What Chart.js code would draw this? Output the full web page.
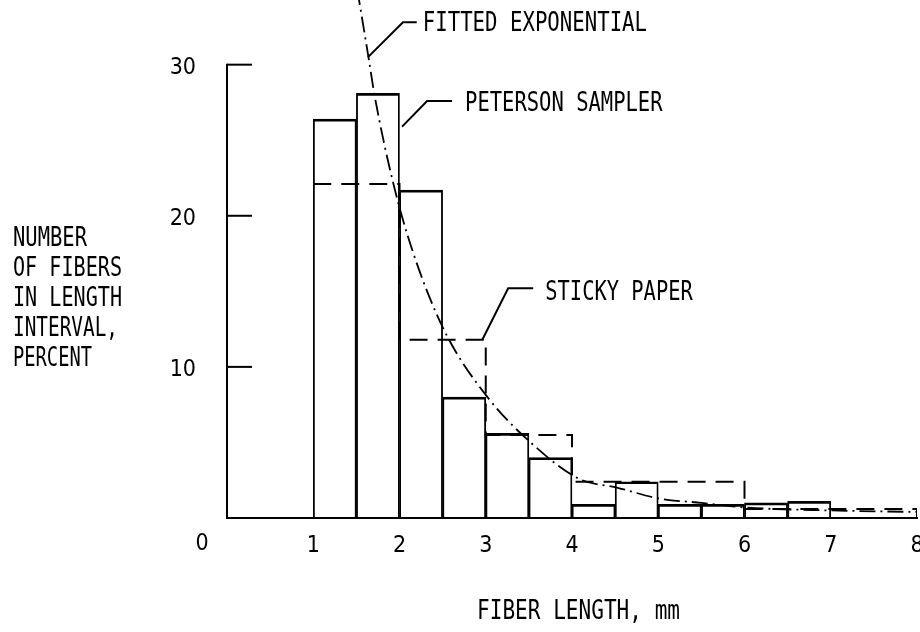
<!DOCTYPE html>
<html><head><meta charset="utf-8">
<script src="https://cdn.jsdelivr.net/npm/chart.js@4/dist/chart.umd.min.js"></script>
<style>html,body{margin:0;padding:0;background:#fff;} #wrap{position:relative;width:920px;height:632px;background:#fff;}</style>
</head><body><div id="wrap"><canvas id="c"></canvas></div>
<script>
// ---------------- data ----------------
const petersonBinStart = [1.0, 1.5, 2.0, 2.5, 3.0, 3.5, 4.0, 4.5, 5.0, 5.5, 6.0, 6.5];
const petersonBinEnd   = [1.5, 2.0, 2.5, 3.0, 3.5, 4.0, 4.5, 5.0, 5.5, 6.0, 6.5, 7.0];
const petersonPercent  = [26.4, 28.1, 21.7, 8.0, 5.6, 4.0, 0.9, 2.4, 0.9, 0.9, 1.0, 1.1];

const stickyBinStart = [1, 2, 3, 4, 6];
const stickyBinEnd   = [2, 3, 4, 6, 8];
const stickyPercent  = [22.1, 11.8, 5.5, 2.4, 0.6];

const fitLength  = [1.51, 1.64, 1.71, 1.93, 2.15, 2.52, 3.02, 3.52, 4.08, 4.53, 5.0, 5.5, 6.0, 7.0, 8.0];
const fitPercent = [35.0, 30.5, 28.0, 22.1, 17.7, 12.4, 8.0, 5.0, 2.6, 2.0, 1.3, 1.0, 0.7, 0.5, 0.4];

const xTickValues = [1, 2, 3, 4, 5, 6, 7, 8];
const yTickValues = [10, 20, 30];
const originLabel = '0';
const xAxisTitle = 'FIBER LENGTH, mm';
const yAxisTitle = ['NUMBER', 'OF FIBERS', 'IN LENGTH', 'INTERVAL,', 'PERCENT'];
const seriesNames = ['PETERSON SAMPLER', 'STICKY PAPER', 'FITTED EXPONENTIAL'];

// ---------------- derived datasets ----------------
const petersonData = petersonPercent.map((v, i) => ({x: (petersonBinStart[i] + petersonBinEnd[i]) / 2, y: v}));
const stickyData = stickyPercent.map((v, i) => ({x: stickyBinStart[i], y: v}))
  .concat([{x: stickyBinEnd[stickyBinEnd.length - 1], y: 0}]);
const fitData = fitLength.map((x, i) => ({x: x, y: fitPercent[i]}));

const TICKFONT = "'Liberation Sans Narrow', 'DejaVu Sans Condensed', 'DejaVu Sans', sans-serif";
const TEXTFONT = "'DejaVu Sans Mono', 'Liberation Mono', monospace";

// callouts anchored in data coordinates: leader polyline, text span (x from..to), text y
const callouts = [
  {text: seriesNames[2], leader: [[1.635, 30.5], [2.04, 32.8], [2.20, 32.8]], x0: 2.27, x1: 4.87, y: 32.9},
  {text: seriesNames[0], leader: [[2.03, 25.9], [2.32, 27.6], [2.61, 27.6]], x0: 2.76, x1: 5.05, y: 27.6},
  {text: seriesNames[1], leader: [[2.96, 11.8], [3.26, 15.2], [3.55, 15.2]], x0: 3.69, x1: 5.40, y: 15.1}
];

function fitText(ctx, str, left, midY, width, size) {
  ctx.save();
  ctx.font = size + 'px ' + TEXTFONT;
  ctx.textAlign = 'left';
  ctx.textBaseline = 'alphabetic';
  const w = ctx.measureText(str).width;
  ctx.translate(left, midY + size * 0.365);
  ctx.scale(width / w, 1);
  ctx.fillStyle = '#000';
  ctx.fillText(str, 0, 0);
  ctx.restore();
}

const annot = {
  id: 'annot',
  afterDraw(chart) {
    const ctx = chart.ctx, xs = chart.scales.x, ys = chart.scales.y;
    const X = v => xs.getPixelForValue(v), Y = v => ys.getPixelForValue(v);
    ctx.save();
    ctx.strokeStyle = '#000';
    ctx.lineWidth = 2;
    ctx.lineCap = 'butt';
    // y axis line from 0 to top tick, with inward ticks
    const x0 = X(0);
    ctx.beginPath();
    ctx.moveTo(x0, Y(0) + 1);
    ctx.lineTo(x0, Y(yTickValues[yTickValues.length - 1]) - 1);
    ctx.stroke();
    yTickValues.forEach(v => {
      ctx.beginPath();
      ctx.moveTo(x0, Y(v));
      ctx.lineTo(x0 + 25, Y(v));
      ctx.stroke();
    });
    // callouts
    callouts.forEach(c => {
      ctx.beginPath();
      c.leader.forEach((p, i) => { const px = X(p[0]), py = Y(p[1]); if (i) ctx.lineTo(px, py); else ctx.moveTo(px, py); });
      ctx.stroke();
      fitText(ctx, c.text, X(c.x0), Y(c.y), X(c.x1) - X(c.x0), 27);
    });
    // origin label
    ctx.font = '23px ' + TICKFONT;
    ctx.fillStyle = '#000';
    ctx.textAlign = 'center';
    ctx.textBaseline = 'middle';
    ctx.fillText(originLabel, x0 - 25, Y(0) + 26);
    // axis titles
    fitText(ctx, xAxisTitle, 477, 609, 203, 27);
    const widths = [74, 109, 109, 105, 79];
    yAxisTitle.forEach((t, i) => fitText(ctx, t, 13, 236 + i * 30, widths[i], 27));
    ctx.restore();
  }
};

new Chart(document.getElementById('c'), {
  type: 'bar',
  data: {
    datasets: [
      {type: 'line', label: seriesNames[2], data: fitData, borderColor: '#000', borderWidth: 1.8,
       borderDash: [16, 5, 2, 5], pointRadius: 0, cubicInterpolationMode: 'monotone', fill: false},
      {type: 'line', label: seriesNames[1], data: stickyData, stepped: 'before', borderColor: '#000', borderWidth: 2,
       borderDash: [18, 10], pointRadius: 0, fill: false},
      {type: 'bar', label: seriesNames[0], data: petersonData, backgroundColor: 'rgba(0,0,0,0)', borderColor: '#000',
       borderWidth: {top: 2, left: 1.2, right: 1.2, bottom: 0}, barPercentage: 1, categoryPercentage: 1}
    ]
  },
  options: {
    responsive: true, maintainAspectRatio: false, animation: false, devicePixelRatio: 1,
    layout: {padding: {left: 0, right: 3, top: 0, bottom: 0}},
    plugins: {legend: {display: false}, tooltip: {enabled: false}, title: {display: false}},
    scales: {
      x: {type: 'linear', min: 0, max: 8, offset: false, grid: {display: false, offset: false},
          border: {display: true, color: '#000', width: 2},
          afterBuildTicks: s => { s.ticks = xTickValues.map(v => ({value: v})); },
          afterFit: s => { s.height = 114; s.paddingLeft = 0; s.paddingRight = 3; },
          ticks: {color: '#000', font: {family: TICKFONT, size: 23}, padding: 6, autoSkip: false, maxRotation: 0}},
      y: {type: 'linear', min: 0, max: 34.28, grid: {display: false}, border: {display: false},
          afterBuildTicks: s => { s.ticks = yTickValues.map(v => ({value: v})); },
          afterFit: s => { s.width = 227; s.paddingTop = 0; s.paddingBottom = 0; },
          ticks: {color: '#000', font: {family: TICKFONT, size: 23}, padding: 23, labelOffset: 3}}
    }
  },
  plugins: [annot]
});
</script>
</body></html>
